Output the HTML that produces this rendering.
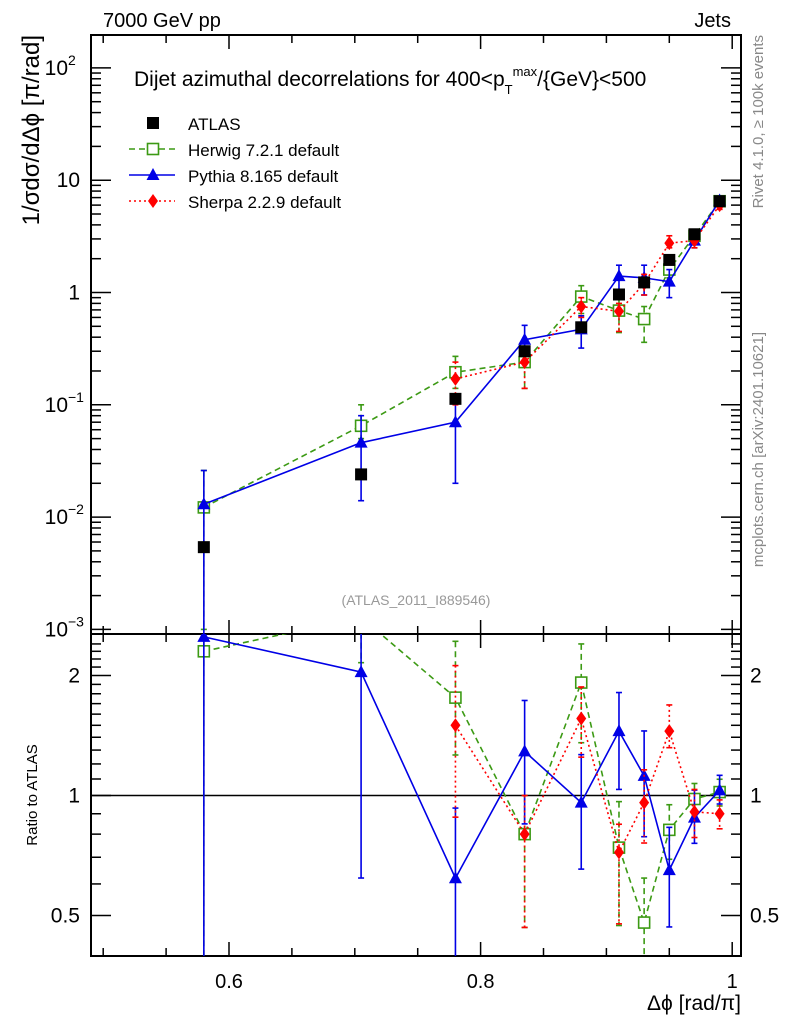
<!DOCTYPE html>
<html><head><meta charset="utf-8"><style>
html,body{margin:0;padding:0;background:#fff;width:786px;height:1024px;overflow:hidden;}
svg{display:block;font-family:"Liberation Sans",Arial,sans-serif;}
</style></head><body>
<svg id="c" width="786" height="1024" viewBox="0 0 786 1024"></svg>
<script>
const xs=[0.58,0.705,0.78,0.835,0.88,0.91,0.93,0.95,0.97,0.99];
const atlas=[0.0054,0.024,0.113,0.30,0.49,0.96,1.23,1.95,3.3,6.5];
const herwig=[0.0122,0.065,0.195,0.24,0.92,0.69,0.58,1.6,3.2,6.5];
const herwigUp=[0.026,0.1,0.27,0.3,1.15,0.9,0.75,1.85,3.5,7.0];
const herwigDn=[0.001,0.05,0.14,0.14,0.65,0.44,0.36,1.35,2.9,6.0];
const pythia=[0.013,0.046,0.07,0.38,0.47,1.4,1.35,1.25,2.9,6.6];
const pythiaUp=[0.026,0.08,0.105,0.51,0.62,1.75,1.75,1.6,3.4,7.2];
const pythiaDn=[0.0005,0.014,0.02,0.25,0.32,1.0,0.95,0.9,2.5,6.1];
const sherpaX=[0.78,0.835,0.88,0.91,0.93,0.95,0.97,0.99];
const sherpa=[0.17,0.24,0.75,0.68,1.2,2.75,2.9,6.0];
const sherpaUp=[0.24,0.3,0.9,0.8,1.45,3.2,3.3,6.5];
const sherpaDn=[0.1,0.14,0.6,0.45,0.95,2.5,2.5,5.5];
const rHerwig=[2.3,2.8,1.76,0.8,1.92,0.74,0.48,0.82,0.98,1.02];
const rPythia=[2.5,2.04,0.62,1.29,0.96,1.45,1.12,0.65,0.88,1.03];
const rSherpa=[1.5,0.8,1.56,0.72,0.96,1.45,0.91,0.9];
const xTicks=[0.6,0.8,1];
const yTicks=[[100,"10","2"],[10,"10",""],[1,"1",""],[0.1,"10","−1"],[0.01,"10","−2"],[0.001,"10","−3"]];
const rTicks=[[2,"2"],[1,"1"],[0.5,"0.5"]];

const L=91,R=741,T=35,M=634,B=956;
const X=v=>229+(v-0.6)*1258;
const Y=v=>292.5-112.3*Math.log10(v);
const RY=v=>795.5-120*Math.log2(v);
const svg=document.getElementById('c');
const NS="http://www.w3.org/2000/svg";
function el(t,a,p){const e=document.createElementNS(NS,t);for(const k in a)e.setAttribute(k,a[k]);(p||svg).appendChild(e);return e;}
function txt(x,y,s,a,p){const e=el('text',Object.assign({x:x,y:y},a||{}),p);e.textContent=s;return e;}

const defs=el('defs',{});
const c1=el('clipPath',{id:'cm'},defs);el('rect',{x:L,y:T,width:R-L,height:M-T},c1);
const c2=el('clipPath',{id:'cr'},defs);el('rect',{x:L,y:M,width:R-L,height:B-M},c2);

const f1=el('rect',{x:L,y:T,width:R-L,height:M-T,fill:'none',stroke:'#000','stroke-width':2});

const f2=el('rect',{x:L,y:M,width:R-L,height:B-M,fill:'none',stroke:'#000','stroke-width':2});


for(let v=0.5;v<=1.0001;v+=0.05){const x=X(v);const major=Math.abs(v*10-Math.round(v*10))<1e-6&&Math.round(v*10)%2==0;const l=major?14:8;
 el('line',{x1:x,y1:T,x2:x,y2:T+l,stroke:'#000','stroke-width':1.5});
 el('line',{x1:x,y1:M,x2:x,y2:M-l,stroke:'#000','stroke-width':1.5});
 el('line',{x1:x,y1:M,x2:x,y2:M+l,stroke:'#000','stroke-width':1.5});
 el('line',{x1:x,y1:B,x2:x,y2:B-l,stroke:'#000','stroke-width':1.5});}
xTicks.forEach(v=>{const t=txt(X(v),988,String(v),{'font-size':20,'text-anchor':'middle'});});
const xt=txt(741,1010,"Δϕ [rad/π]",{'font-size':21,'text-anchor':'end'});


for(let d=-3;d<=2;d++){for(let k=1;k<10;k++){const v=k*Math.pow(10,d);const y=Y(v);if(y<T||y>M)continue;const l=k==1?20:10;
 el('line',{x1:L,y1:y,x2:L+l,y2:y,stroke:'#000','stroke-width':1.5});
 el('line',{x1:R,y1:y,x2:R-l,y2:y,stroke:'#000','stroke-width':1.5});}}
yTicks.forEach(t=>{const y=Y(t[0]);const g=el('text',{x:t[2]?68:80,y:y+7,'font-size':21,'text-anchor':'end'});g.textContent=t[1];
 
 if(t[2]){const s=el('text',{x:68,y:y-3,'font-size':14});s.textContent=t[2];}});
const yt=txt(0,0,"1/σdσ/dΔϕ [π/rad]",{'font-size':24,'text-anchor':'end',transform:'translate(39,35) rotate(-90)'});


for(let v=0.4;v<=2.5;v+=0.1){const y=RY(v);if(y<M+2||y>B-2)continue;const major=[0.5,1,2].some(a=>Math.abs(a-v)<1e-6);const l=major?20:10;
 el('line',{x1:L,y1:y,x2:L+l,y2:y,stroke:'#000','stroke-width':1.5});
 el('line',{x1:R,y1:y,x2:R-l,y2:y,stroke:'#000','stroke-width':1.5});}
rTicks.forEach(t=>{const y=RY(t[0]);const a=txt(80,y+7,t[1],{'font-size':21,'text-anchor':'end'});
 const b=txt(750,y+7,t[1],{'font-size':21});});
const rt=txt(0,0,"Ratio to ATLAS",{'font-size':15,'text-anchor':'middle',transform:'translate(37,795) rotate(-90)'});

el('line',{x1:L,y1:RY(1),x2:R,y2:RY(1),stroke:'#000','stroke-width':1.5});

const t1=txt(103,27,"7000 GeV pp",{'font-size':20});
const t2=txt(731,27,"Jets",{'font-size':20,'text-anchor':'end'});
const ti=el('text',{x:134,y:86,'font-size':21});
ti.innerHTML='Dijet azimuthal decorrelations for 400&lt;p<tspan dy="8" font-size="13">T</tspan><tspan dy="-18" font-size="13">max</tspan><tspan dy="10">/{GeV}&lt;500</tspan>';
const rv=txt(0,0,"Rivet 4.1.0, ≥ 100k events",{'font-size':15,fill:'#888','text-anchor':'end',transform:'translate(763,35) rotate(-90)'});

const mc=txt(0,0,"mcplots.cern.ch [arXiv:2401.10621]",{'font-size':15,fill:'#888','text-anchor':'end',transform:'translate(763,332) rotate(-90)'});

const an=txt(416,605,"(ATLAS_2011_I889546)",{'font-size':14,fill:'#999','text-anchor':'middle'});


function marker(g,type,x,y,color){
 if(type=='sq')el('rect',{x:x-6,y:y-6,width:12,height:12,fill:'#000'},g);
 if(type=='osq')el('rect',{x:x-5.5,y:y-5.5,width:11,height:11,fill:'#fff',stroke:color,'stroke-width':1.6},g);
 if(type=='tri')el('polygon',{points:`${x},${y-7} ${x-6.5},${y+5} ${x+6.5},${y+5}`,fill:color},g);
 if(type=='dia')el('polygon',{points:`${x},${y-7} ${x-5},${y} ${x},${y+7} ${x+5},${y}`,fill:color},g);}
function series(name,xa,vals,up,dn,Yf,color,dash,type,clip,isRatio,base){
 const g=el('g',{'clip-path':`url(#${clip})`});
 
 const pts=xa.map((x,i)=>[X(x),Yf(vals[i])]);
 if(color)el('polyline',{points:pts.map(p=>p.join(',')).join(' '),fill:'none',stroke:color,'stroke-width':1.6,'stroke-dasharray':dash},g);
 xa.forEach((x,i)=>{const px=X(x);
  if(up){const f=isRatio?vals[i]/base[i]:1;const yu=Yf(up[i]*f),yd=Yf(Math.max(dn[i]*f,1e-6));
   el('line',{x1:px,y1:yu,x2:px,y2:yd,stroke:color,'stroke-width':1.6,'stroke-dasharray':dash},g);
   el('line',{x1:px-3,y1:yu,x2:px+3,y2:yu,stroke:color,'stroke-width':1.6},g);
   el('line',{x1:px-3,y1:yd,x2:px+3,y2:yd,stroke:color,'stroke-width':1.6},g);}
  marker(g,type,px,Yf(vals[i]),color||'#000');});}
const G='#3c9a14',Bl='#0000e6',Rd='#ff0000';
series('herwig-series',xs,herwig,herwigUp,herwigDn,Y,G,'6,4','osq','cm');
series('pythia-series',xs,pythia,pythiaUp,pythiaDn,Y,Bl,null,'tri','cm');
series('sherpa-series',sherpaX,sherpa,sherpaUp,sherpaDn,Y,Rd,'2,3','dia','cm');
series('atlas-series',xs,atlas,null,null,Y,null,null,'sq','cm');
series('herwig-ratio',xs,rHerwig,herwigUp,herwigDn,RY,G,'6,4','osq','cr',true,herwig);
series('pythia-ratio',xs,rPythia,pythiaUp,pythiaDn,RY,Bl,null,'tri','cr',true,pythia);
series('sherpa-ratio',sherpaX,rSherpa,sherpaUp,sherpaDn,RY,Rd,'2,3','dia','cr',true,sherpa);

const lg=el('g',{});
const items=[['ATLAS',null,null,'sq'],['Herwig 7.2.1 default',G,'6,4','osq'],['Pythia 8.165 default',Bl,null,'tri'],['Sherpa 2.2.9 default',Rd,'2,3','dia']];
items.forEach((it,i)=>{const y=123+i*26;const g=el('g',{},lg);
 if(it[1])el('line',{x1:129,y1:y,x2:175,y2:y,stroke:it[1],'stroke-width':1.5,'stroke-dasharray':it[2]},g);
 marker(g,it[3],153,y,it[1]||'#000');
 txt(188,y+7,it[0],{'font-size':17},g);});
</script>
</body></html>
